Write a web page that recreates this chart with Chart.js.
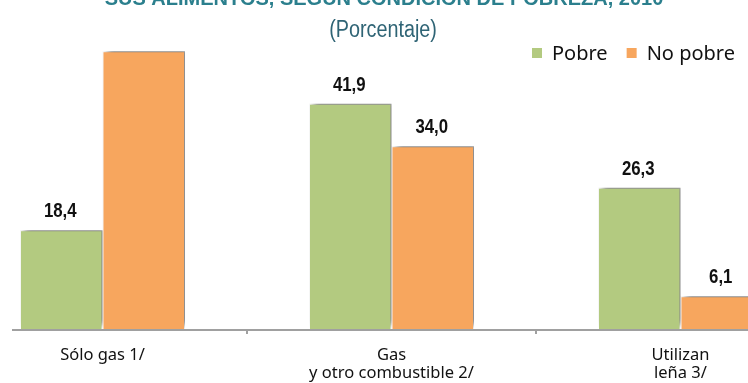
<!DOCTYPE html>
<html>
<head>
<meta charset="utf-8">
<script src="https://cdn.jsdelivr.net/npm/chart.js@4.4.1/dist/chart.umd.min.js"></script>
<style>
    html, body { margin: 0; padding: 0; background: #fff; }
    #wrap { position: relative; width: 748px; height: 383px; overflow: hidden; }
    #chart { position: absolute; left: -42px; top: -10px; }
</style>
</head>
<body>
<div id="wrap">
    <canvas id="chart" width="867" height="404"></canvas>
</div>
<script>
const titleText = 'SUS ALIMENTOS, SEGÚN CONDICIÓN DE POBREZA, 2010';
const subtitleText = '(Porcentaje)';
const categories = ['Sólo gas 1/', ['Gas', 'y otro combustible 2/'], ['Utilizan', 'leña 3/']];
const seriesNames = ['Pobre', 'No pobre'];
const pobre = [18.4, 41.9, 26.3];
const noPobre = [51.7, 34.0, 6.1];
// the first "No pobre" label is not shown in the original
const showLabels = [[true, true, true], [false, true, true]];
const seriesColors = ['#b3ca80', '#f7a65e'];

const SANS = '"Liberation Sans", Arial, sans-serif';
const AXIS_GREY = '#a0a0a0';

// draw text squeezed horizontally, to look like Arial Narrow
function narrowText(ctx, txt, x, y, squeeze) {
    ctx.save();
    ctx.translate(x, y);
    ctx.scale(squeeze, 1);
    ctx.fillText(txt, 0, 0);
    ctx.restore();
}

const shadowPlugin = {
    id: 'barShadow',
    beforeDatasetDraw(chart) {
        const ctx = chart.ctx;
        ctx.save();
        ctx.shadowColor = 'rgba(0,0,0,0.5)';
        ctx.shadowBlur = 6;
        ctx.shadowOffsetX = 4;
        ctx.shadowOffsetY = -4;
    },
    afterDatasetDraw(chart) {
        chart.ctx.restore();
    }
};

const labelPlugin = {
    id: 'valueLabels',
    afterDatasetsDraw(chart) {
        const ctx = chart.ctx;
        ctx.save();
        ctx.font = 'bold 20px ' + SANS;
        ctx.fillStyle = '#111';
        ctx.textAlign = 'center';
        ctx.textBaseline = 'alphabetic';
        chart.data.datasets.forEach((ds, i) => {
            chart.getDatasetMeta(i).data.forEach((bar, j) => {
                if (!showLabels[i][j]) return;
                const txt = ds.data[j].toFixed(1).replace('.', ',');
                narrowText(ctx, txt, bar.x - 1, bar.y - 13, 0.84);
            });
        });
        ctx.restore();
    }
};

// axis line starts a bit inside the left edge, as in the cropped original
const axisLinePlugin = {
    id: 'axisLine',
    afterDraw(chart) {
        const ctx = chart.ctx;
        const area = chart.chartArea;
        ctx.save();
        ctx.strokeStyle = AXIS_GREY;
        ctx.lineWidth = 2;
        ctx.beginPath();
        ctx.moveTo(area.left + 54, area.bottom + 1);
        ctx.lineTo(area.right, area.bottom + 1);
        ctx.stroke();
        ctx.restore();
    }
};

const headerPlugin = {
    id: 'header',
    afterDraw(chart) {
        const ctx = chart.ctx;
        ctx.save();
        ctx.textAlign = 'center';
        ctx.textBaseline = 'alphabetic';

        ctx.font = 'bold 20px ' + SANS;
        ctx.fillStyle = '#2b7f8d';
        ctx.fillText(titleText, 426, 15);

        ctx.font = '23px ' + SANS;
        ctx.fillStyle = '#2f6475';
        narrowText(ctx, subtitleText, 425, 47, 0.86);

        // legend
        ctx.textAlign = 'left';
        ctx.textBaseline = 'middle';
        ctx.font = '20px "Noto Sans", sans-serif';
        let x = 574;
        const y = 63;
        chart.data.datasets.forEach(ds => {
            ctx.fillStyle = ds.backgroundColor;
            ctx.fillRect(x, y - 5, 10, 10);
            x += 20;
            ctx.fillStyle = '#111';
            ctx.fillText(ds.label, x, y + 1);
            x += ctx.measureText(ds.label).width + 19;
        });
        ctx.restore();
    }
};

new Chart(document.getElementById('chart'), {
    type: 'bar',
    data: {
        labels: categories,
        datasets: [
            { label: seriesNames[0], data: pobre, backgroundColor: seriesColors[0] },
            { label: seriesNames[1], data: noPobre, backgroundColor: seriesColors[1] }
        ].map(d => Object.assign(d, {
            borderColor: '#ffffff',
            borderWidth: 1,
            categoryPercentage: 0.571,
            barPercentage: 1
        }))
    },
    options: {
        responsive: false,
        animation: false,
        devicePixelRatio: 1,
        layout: { padding: { left: 0, right: 0, top: 51, bottom: 0 } },
        plugins: {
            legend: { display: false },
            tooltip: { enabled: false },
            title: { display: false }
        },
        scales: {
            x: {
                grid: {
                    display: true,
                    drawOnChartArea: false,
                    drawTicks: true,
                    tickLength: 5,
                    color: AXIS_GREY,
                    lineWidth: 2
                },
                border: { display: false },
                ticks: {
                    color: '#111',
                    padding: 12,
                    maxRotation: 0,
                    autoSkip: false,
                    font: { family: '"Noto Sans", sans-serif', size: 16.5, lineHeight: '18px' }
                }
            },
            y: {
                display: false,
                min: 0,
                max: 53.6
            }
        }
    },
    plugins: [shadowPlugin, labelPlugin, axisLinePlugin, headerPlugin]
});
</script>
</body>
</html>
